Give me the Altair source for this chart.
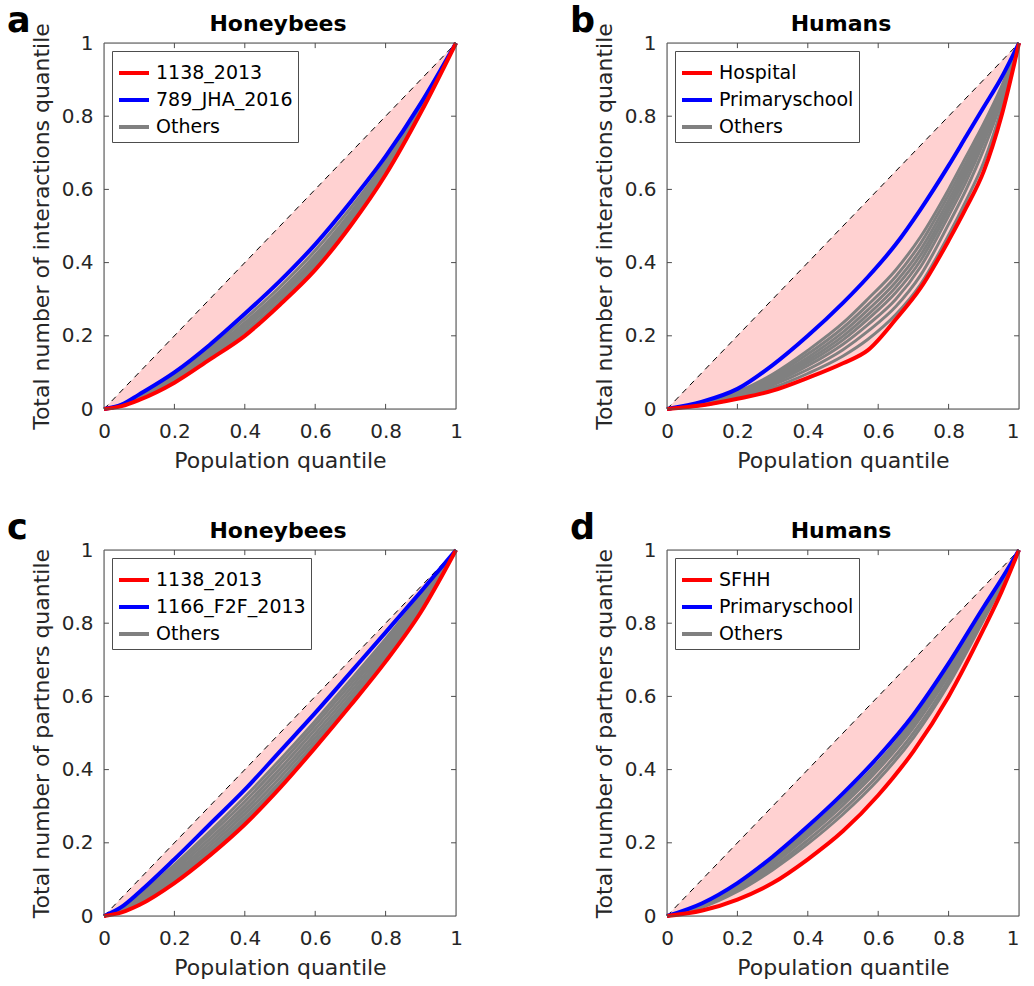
import altair as alt
import pandas as pd

FONT = "DejaVu Sans"
TXT = "#262626"
FRAME = "#4d4d4d"
PINK = "#ffd1d1"
COLORS = ["#ff0000", "#0000ff", "#808080"]
TICKS = [0, 0.2, 0.4, 0.6, 0.8, 1]

# ---------------- panel a : Honeybees, interactions ----------------
A_X = [0, 0.05, 0.1, 0.2, 0.3, 0.4, 0.5, 0.6, 0.7, 0.8, 0.9, 1]
A_RED = [0, 0.008, 0.025, 0.072, 0.135, 0.2, 0.285, 0.38, 0.5, 0.64, 0.81, 1]
A_BLUE = [0, 0.012, 0.04, 0.1, 0.175, 0.26, 0.35, 0.45, 0.565, 0.69, 0.835, 1]
A_GRAY = [
    [0, 0.011, 0.037, 0.094, 0.165, 0.246, 0.334, 0.433, 0.548, 0.676, 0.828, 1],
    [0, 0.010, 0.034, 0.089, 0.158, 0.236, 0.322, 0.42, 0.536, 0.667, 0.824, 1],
    [0, 0.010, 0.032, 0.085, 0.152, 0.228, 0.313, 0.41, 0.527, 0.66, 0.821, 1],
    [0, 0.009, 0.030, 0.081, 0.146, 0.22, 0.304, 0.4, 0.518, 0.654, 0.818, 1],
    [0, 0.009, 0.028, 0.077, 0.141, 0.211, 0.295, 0.391, 0.51, 0.648, 0.815, 1],
]
A_NAMES = ["1138_2013", "789_JHA_2016", "Others"]

# ---------------- panel b : Humans, interactions ----------------
B_X = [0, 0.1, 0.2, 0.3, 0.4, 0.5, 0.57, 0.65, 0.72, 0.8, 0.85, 0.9, 0.95, 1]
B_RED = [0, 0.01, 0.028, 0.05, 0.085, 0.125, 0.16, 0.245, 0.33, 0.46, 0.55, 0.65, 0.8, 1]
B_BLUE = [0, 0.02, 0.055, 0.12, 0.2, 0.29, 0.36, 0.45, 0.545, 0.665, 0.745, 0.825, 0.905, 1]
B_GRAY = [
    [0, 0.016, 0.047, 0.095, 0.16, 0.235, 0.3, 0.38, 0.47, 0.6, 0.69, 0.78, 0.88, 1],
    [0, 0.015, 0.044, 0.089, 0.15, 0.222, 0.284, 0.362, 0.452, 0.585, 0.675, 0.77, 0.875, 1],
    [0, 0.014, 0.041, 0.084, 0.141, 0.21, 0.27, 0.347, 0.435, 0.57, 0.662, 0.76, 0.87, 1],
    [0, 0.013, 0.039, 0.079, 0.133, 0.199, 0.257, 0.333, 0.42, 0.556, 0.65, 0.75, 0.865, 1],
    [0, 0.013, 0.037, 0.075, 0.126, 0.189, 0.245, 0.318, 0.405, 0.543, 0.638, 0.742, 0.86, 1],
    [0, 0.012, 0.035, 0.07, 0.118, 0.177, 0.23, 0.3, 0.388, 0.528, 0.622, 0.73, 0.852, 1],
    [0, 0.011, 0.033, 0.065, 0.108, 0.162, 0.212, 0.28, 0.365, 0.505, 0.6, 0.71, 0.84, 1],
    [0, 0.010, 0.03, 0.058, 0.097, 0.145, 0.19, 0.258, 0.34, 0.475, 0.57, 0.675, 0.82, 1],
]
B_NAMES = ["Hospital", "Primaryschool", "Others"]

# ---------------- panel c : Honeybees, partners ----------------
C_X = [0, 0.05, 0.1, 0.2, 0.3, 0.4, 0.5, 0.6, 0.7, 0.8, 0.9, 1]
C_RED = [0, 0.01, 0.03, 0.09, 0.165, 0.25, 0.35, 0.46, 0.575, 0.695, 0.83, 1]
C_BLUE = [0, 0.025, 0.065, 0.155, 0.25, 0.345, 0.45, 0.555, 0.665, 0.775, 0.886, 1]
C_GRAY = [
    [0, 0.021, 0.056, 0.14, 0.23, 0.325, 0.427, 0.533, 0.644, 0.757, 0.875, 1],
    [0, 0.019, 0.052, 0.132, 0.221, 0.313, 0.415, 0.522, 0.633, 0.748, 0.869, 1],
    [0, 0.017, 0.048, 0.125, 0.21, 0.301, 0.402, 0.51, 0.622, 0.739, 0.863, 1],
    [0, 0.016, 0.045, 0.118, 0.2, 0.29, 0.39, 0.498, 0.611, 0.73, 0.857, 1],
    [0, 0.014, 0.041, 0.111, 0.19, 0.279, 0.378, 0.487, 0.6, 0.721, 0.851, 1],
    [0, 0.013, 0.038, 0.104, 0.181, 0.268, 0.366, 0.476, 0.59, 0.712, 0.845, 1],
    [0, 0.012, 0.035, 0.099, 0.174, 0.26, 0.358, 0.468, 0.583, 0.704, 0.838, 1],
]
C_NAMES = ["1138_2013", "1166_F2F_2013", "Others"]

# ---------------- panel d : Humans, partners ----------------
D_X = [0, 0.1, 0.2, 0.3, 0.4, 0.5, 0.6, 0.7, 0.8, 0.9, 0.95, 1]
D_RED = [0, 0.015, 0.045, 0.09, 0.155, 0.232, 0.33, 0.45, 0.6, 0.785, 0.885, 1]
D_BLUE = [0, 0.035, 0.09, 0.162, 0.245, 0.335, 0.435, 0.55, 0.69, 0.845, 0.92, 1]
D_GRAY = [
    [0, 0.032, 0.084, 0.153, 0.233, 0.322, 0.42, 0.536, 0.677, 0.837, 0.915, 1],
    [0, 0.03, 0.08, 0.147, 0.225, 0.313, 0.41, 0.526, 0.668, 0.832, 0.913, 1],
    [0, 0.028, 0.076, 0.141, 0.218, 0.303, 0.4, 0.515, 0.658, 0.826, 0.91, 1],
    [0, 0.026, 0.071, 0.133, 0.207, 0.29, 0.385, 0.5, 0.645, 0.818, 0.906, 1],
    [0, 0.024, 0.067, 0.126, 0.197, 0.278, 0.372, 0.487, 0.633, 0.81, 0.902, 1],
]
D_NAMES = ["SFHH", "Primaryschool", "Others"]

XTITLE = "Population quantile"
YT_INT = "Total number of interactions quantile"
YT_PAR = "Total number of partners quantile"

W = 352
H = 366
TICK_LEN = 0.014

SCALE = alt.Scale(domain=[0, 1], nice=False, zero=False)


def xaxis(flush_right):
    kw = dict(values=TICKS, format=".1~f", ticks=False, domain=False, grid=False,
              labelPadding=12, titlePadding=9, labelFont=FONT, labelFontSize=20,
              labelColor=TXT, titleFont=FONT, titleFontSize=22, titleFontWeight="normal",
              titleColor=TXT, labelFlush=False)
    if flush_right:
        kw["labelAlign"] = {"condition": {"test": "datum.value >= 1", "value": "right"},
                            "value": "center"}
    return alt.Axis(**kw)


YAXIS = alt.Axis(values=TICKS, format=".1~f", ticks=False, domain=False, grid=False,
                 labelPadding=11, titlePadding=8, labelFont=FONT, labelFontSize=20,
                 labelColor=TXT, titleFont=FONT, titleFontSize=22, titleFontWeight="normal",
                 titleColor=TXT, labelFlush=False)


def panel(letter, title, ytitle, xs, red, blue, grays, names, flush_right):
    xax = xaxis(flush_right)

    def X(field):
        return alt.X(field, type="quantitative", scale=SCALE, axis=xax, title=XTITLE)

    def Y(field):
        return alt.Y(field, type="quantitative", scale=SCALE, axis=YAXIS, title=ytitle)

    cscale = alt.Scale(domain=names, range=COLORS)
    legend = alt.Legend(title=None, orient="top-left", offset=8, padding=5,
                        strokeColor=FRAME, fillColor="white", cornerRadius=0,
                        labelFont=FONT, labelFontSize=19, labelColor="black",
                        symbolType="stroke", symbolSize=900, symbolStrokeWidth=4,
                        labelOffset=5, rowPadding=-5, labelLimit=300)
    color = alt.Color("series:N", scale=cscale, legend=legend, sort=names)

    red_df = pd.DataFrame({"x": xs, "y": red, "diag": xs, "series": names[0]})
    blue_df = pd.DataFrame({"x": xs, "y": blue, "series": names[1]})
    rows = []
    for i, g in enumerate(grays):
        for xv, yv in zip(xs, g):
            rows.append({"x": xv, "y": yv, "series": names[2], "id": i})
    gray_df = pd.DataFrame(rows)
    diag_df = pd.DataFrame({"x": [0, 1], "y": [0, 1]})
    box_df = pd.DataFrame({"x0": [0], "x1": [1], "y0": [0], "y1": [1]})

    fill = alt.Chart(red_df).mark_area(color=PINK, interpolate="monotone").encode(
        x=X("x"), y=Y("y"), y2="diag")
    diag = alt.Chart(diag_df).mark_line(color="black", strokeWidth=1, strokeDash=[6, 5]).encode(
        x=X("x"), y=Y("y"))
    gl = alt.Chart(gray_df).mark_line(strokeWidth=3, interpolate="monotone").encode(
        x=X("x"), y=Y("y"), color=color, detail="id:N")
    bl = alt.Chart(blue_df).mark_line(strokeWidth=4, interpolate="monotone").encode(
        x=X("x"), y=Y("y"), color=color)
    rl = alt.Chart(red_df).mark_line(strokeWidth=4, interpolate="monotone").encode(
        x=X("x"), y=Y("y"), color=color)

    inner = TICKS[1:-1]
    xt = pd.DataFrame({"t": inner, "a0": [0] * len(inner), "a1": [TICK_LEN] * len(inner),
                       "b0": [1] * len(inner), "b1": [1 - TICK_LEN] * len(inner)})
    tick_layers = [
        alt.Chart(xt).mark_rule(color=FRAME, strokeWidth=1).encode(x=X("t"), y=Y("a0"), y2="a1"),
        alt.Chart(xt).mark_rule(color=FRAME, strokeWidth=1).encode(x=X("t"), y=Y("b0"), y2="b1"),
        alt.Chart(xt).mark_rule(color=FRAME, strokeWidth=1).encode(y=Y("t"), x=X("a0"), x2="a1"),
        alt.Chart(xt).mark_rule(color=FRAME, strokeWidth=1).encode(y=Y("t"), x=X("b0"), x2="b1"),
    ]
    box = alt.Chart(box_df).mark_rect(fillOpacity=0, stroke=FRAME, strokeWidth=1).encode(
        x=X("x0"), x2="x1", y=Y("y0"), y2="y1")
    lab = alt.Chart(pd.DataFrame({"t": [letter]})).mark_text(
        font=FONT, fontSize=35, fontWeight="bold", color="black", align="left",
        baseline="top").encode(text="t:N", x=alt.value(-97), y=alt.value(-39.5))
    ttl = alt.Chart(pd.DataFrame({"t": [title]})).mark_text(
        font=FONT, fontSize=22, fontWeight="bold", color="black", align="center",
        baseline="top").encode(text="t:N", x=alt.value(W / 2 - 2), y=alt.value(-29.5))

    return alt.layer(fill, diag, gl, bl, rl, *tick_layers, box, lab, ttl).properties(
        width=W, height=H,
    ).resolve_scale(color="shared")


pa = panel("a", "Honeybees", YT_INT, A_X, A_RED, A_BLUE, A_GRAY, A_NAMES, False)
pb = panel("b", "Humans", YT_INT, B_X, B_RED, B_BLUE, B_GRAY, B_NAMES, True)
pc = panel("c", "Honeybees", YT_PAR, C_X, C_RED, C_BLUE, C_GRAY, C_NAMES, False)
pd_ = panel("d", "Humans", YT_PAR, D_X, D_RED, D_BLUE, D_GRAY, D_NAMES, True)

row1 = alt.hconcat(pa, pb, spacing=104).resolve_scale(color="independent")
row2 = alt.hconcat(pc, pd_, spacing=104).resolve_scale(color="independent")
chart = alt.vconcat(row1, row2, spacing=38).resolve_scale(color="independent").properties(
    padding={"left": 6, "top": 3, "right": 0, "bottom": 0}
).configure_view(strokeWidth=0).configure(background="white")

chart.save("out.html", embed_options={"renderer": "svg", "actions": False})
